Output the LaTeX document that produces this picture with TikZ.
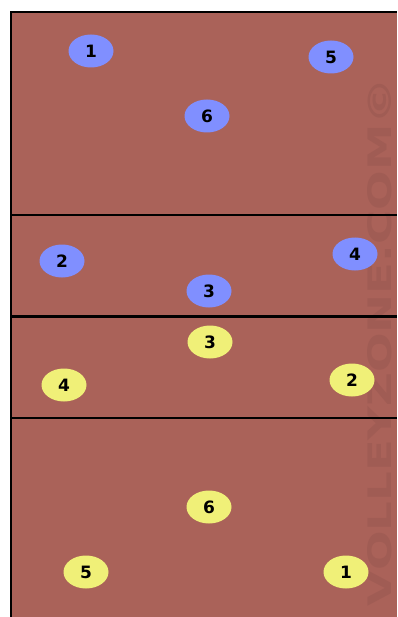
\documentclass[tikz,border=0pt]{standalone}
\usepackage{fontspec}
\usepackage{graphicx}
\setsansfont{DejaVu Sans}
\definecolor{court}{RGB}{170,98,89}
\definecolor{wmark}{RGB}{160,92,84}
\definecolor{bluep}{RGB}{128,143,255}
\definecolor{yellowp}{RGB}{240,240,120}
\tikzset{
  player/.style={ellipse, minimum width=45pt, minimum height=33pt, inner sep=0pt,
    font=\sffamily\bfseries\fontsize{17}{17}\selectfont, text=black},
  bp/.style={player, fill=bluep},
  yp/.style={player, fill=yellowp},
  courtline/.style={line width=1.2pt, black}
}
\usetikzlibrary{shapes.geometric}
\begin{document}
\begin{tikzpicture}[x=1pt,y=-1pt]
\useasboundingbox (0,0) rectangle (397,617);
\fill[white] (0,0) rectangle (397,617);
\fill[court] (11,12) rectangle (397,617);
\node[wmark, rotate=90, inner sep=0pt] (wm) at (380,342) {\resizebox{528pt}{24pt}{\sffamily\bfseries VOLLEYZONE.COM©}};
\coordinate (tl) at (11,12);
\coordinate (tr) at (397,12);
\coordinate (bl) at (11,617);
\draw[line width=1.5pt] (bl) -- (tl) -- (tr);
\coordinate (a1) at (11,215); \coordinate (a2) at (397,215);
\coordinate (n1) at (11,316.5); \coordinate (n2) at (397,316.5);
\coordinate (b1) at (11,418); \coordinate (b2) at (397,418);
\draw[courtline] (a1) -- (a2);
\draw[line width=2.2pt] (n1) -- (n2);
\draw[courtline] (b1) -- (b2);
\node[bp] (B1) at (91,51) {1};
\node[bp] (B5) at (331,57) {5};
\node[bp] (B6) at (207,116) {6};
\node[bp] (B2) at (62,261) {2};
\node[bp] (B4) at (355,254) {4};
\node[bp] (B3) at (209,291) {3};
\node[yp] (Y3) at (210,342) {3};
\node[yp] (Y4) at (64,385) {4};
\node[yp] (Y2) at (352,380) {2};
\node[yp] (Y6) at (209,507) {6};
\node[yp] (Y5) at (86,572) {5};
\node[yp] (Y1) at (346,572) {1};
\end{tikzpicture}
\end{document}
